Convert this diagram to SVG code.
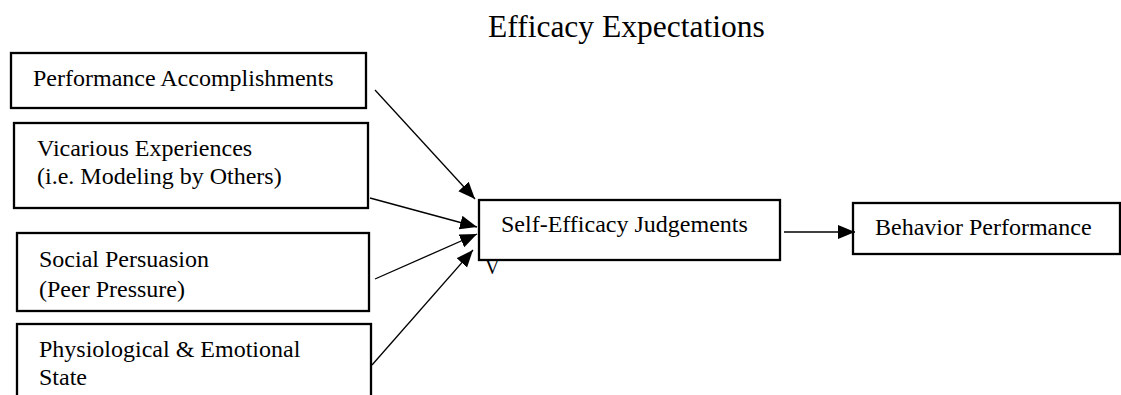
<svg xmlns="http://www.w3.org/2000/svg" width="1121" height="395" viewBox="0 0 1121 395">
<style>
.box{fill:#fff;stroke:#000;stroke-width:2.3}
.t{font-family:"Liberation Serif","Times New Roman",serif;font-size:24px;fill:#000}
.title{font-family:"Liberation Serif","Times New Roman",serif;font-size:31.5px;fill:#000}
.c{stroke:#000;stroke-width:1.3;fill:none;marker-end:url(#ah)}
</style>
<defs>
<marker id="ah" markerUnits="userSpaceOnUse" markerWidth="18" markerHeight="15" refX="17" refY="7" orient="auto">
<path d="M0,0 L17,7 L0,14 Z" fill="#000"/>
</marker>
</defs>
<rect width="1121" height="395" fill="#fff"/>
<text class="title" x="488" y="37">Efficacy Expectations</text>
<g id="n1"><rect class="box" x="11" y="53" width="355" height="55"/><text class="t" x="33" y="86">Performance Accomplishments</text></g>
<g id="n2"><rect class="box" x="14" y="123" width="354" height="85"/><text class="t" x="37" y="156">Vicarious Experiences</text><text class="t" x="37" y="184">(i.e. Modeling by Others)</text></g>
<g id="n3"><rect class="box" x="17" y="233" width="352" height="78"/><text class="t" x="39" y="267">Social Persuasion</text><text class="t" x="39" y="297">(Peer Pressure)</text></g>
<g id="n4"><rect class="box" x="17" y="324" width="354" height="80"/><text class="t" x="39" y="357">Physiological &amp; Emotional</text><text class="t" x="39" y="385">State</text></g>
<g id="n5"><rect class="box" x="479" y="200" width="301" height="60"/><text class="t" x="501" y="232">Self-Efficacy Judgements</text></g>
<g id="n6"><rect class="box" x="853" y="203" width="267" height="51"/><text class="t" x="875" y="235">Behavior Performance</text></g>
<text class="t" x="485" y="274" style="font-size:20px">V</text>
<g id="connectors">
<line class="c" x1="375" y1="90" x2="475" y2="199"/>
<line class="c" x1="370" y1="198" x2="477" y2="227"/>
<line class="c" x1="375" y1="279" x2="477" y2="234"/>
<line class="c" x1="372" y1="365" x2="473" y2="250"/>
<line class="c" x1="784" y1="232" x2="855" y2="232"/>
</g>
</svg>
